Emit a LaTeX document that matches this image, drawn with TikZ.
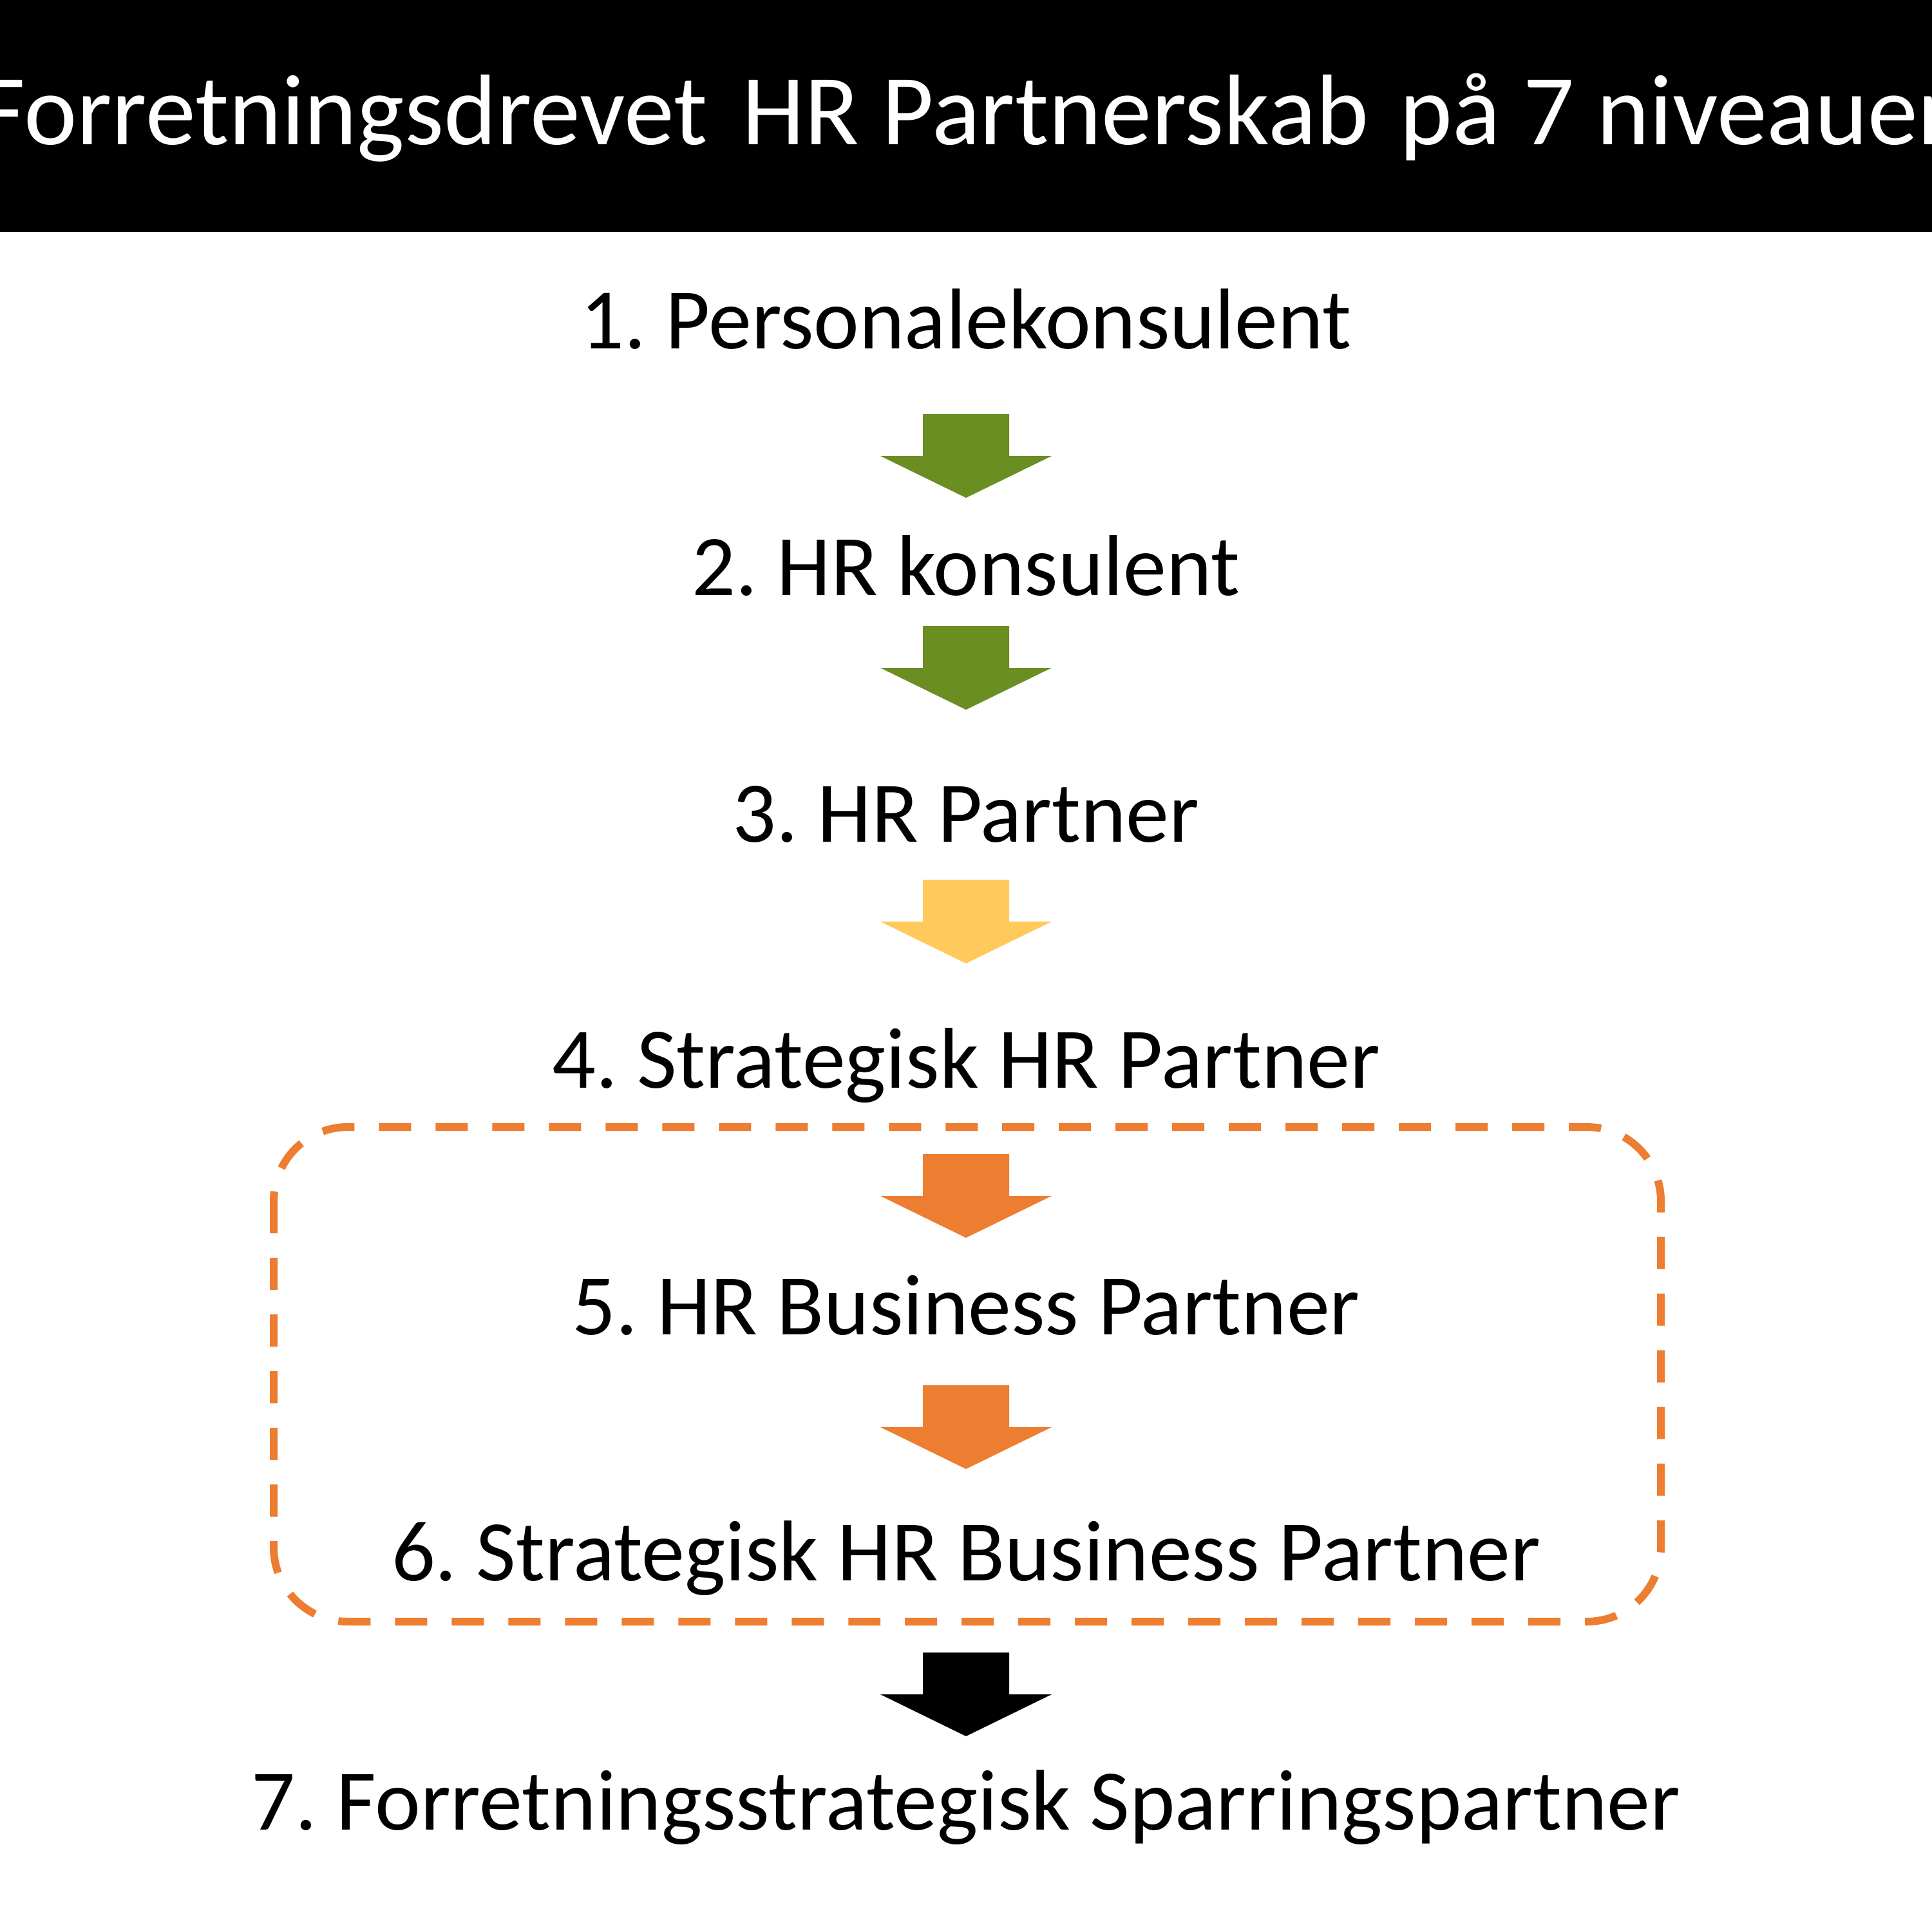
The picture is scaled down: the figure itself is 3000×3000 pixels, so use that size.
\documentclass[tikz,border=0pt]{standalone}
\usepackage{fontspec}
\setmainfont{Carlito}
\frenchspacing
\definecolor{hrgreen}{HTML}{6B8E23}
\definecolor{hryellow}{HTML}{FFC95B}
\definecolor{hrorange}{HTML}{ED7D31}
\begin{document}
\frenchspacing
\begin{tikzpicture}[x=0.1pt,y=-0.1pt,
  level/.style={anchor=base,inner sep=0pt,font=\fontsize{13.4pt}{16pt}\selectfont},
  titletext/.style={anchor=base,inner sep=0pt,text=white,font=\fontsize{15.6pt}{19pt}\selectfont},
  blockarrow/.pic={\fill (-67,0) -- (67,0) -- (67,65) -- (133,65) -- (0,130) -- (-133,65) -- (-67,65) -- cycle;},
  groupbox/.style={draw=hrorange,line width=1.2pt,dash pattern=on 5pt off 3.8pt,rounded corners=11.5pt}]
\useasboundingbox (0,0) rectangle (3000,3000);
\fill[white] (0,0) rectangle (3000,3000);
\fill[black] (0,0) rectangle (3000,360);
\node[titletext] (title) at (1500,224) {Forretningsdrevet\hspace{0.12em} HR Partnerskab\hspace{0.08em} på 7 niveauer};
\node[level] (l1) at (1500,541) {1. Personalekonsulent};
\node[level] (l2) at (1500,924) {2. HR konsulent};
\node[level] (l3) at (1500,1307) {3. HR Partner};
\node[level] (l4) at (1500,1689) {4. Strategisk HR Partner};
\node[level] (l5) at (1500,2072) {5. HR Business Partner};
\node[level] (l6) at (1500,2454) {6. Strategisk HR Business Partner};
\node[level] (l7) at (1500,2841) {7. Forretningsstrategisk Sparringspartner};
\draw[groupbox] (425,1750) rectangle (2579,2518);
\pic[fill=hrgreen] at (1500,643) {blockarrow};
\pic[fill=hrgreen] at (1500,972) {blockarrow};
\pic[fill=hryellow] at (1500,1366) {blockarrow};
\pic[fill=hrorange] at (1500,1792) {blockarrow};
\pic[fill=hrorange] at (1500,2151) {blockarrow};
\pic[fill=black] at (1500,2566) {blockarrow};
\end{tikzpicture}
\end{document}
